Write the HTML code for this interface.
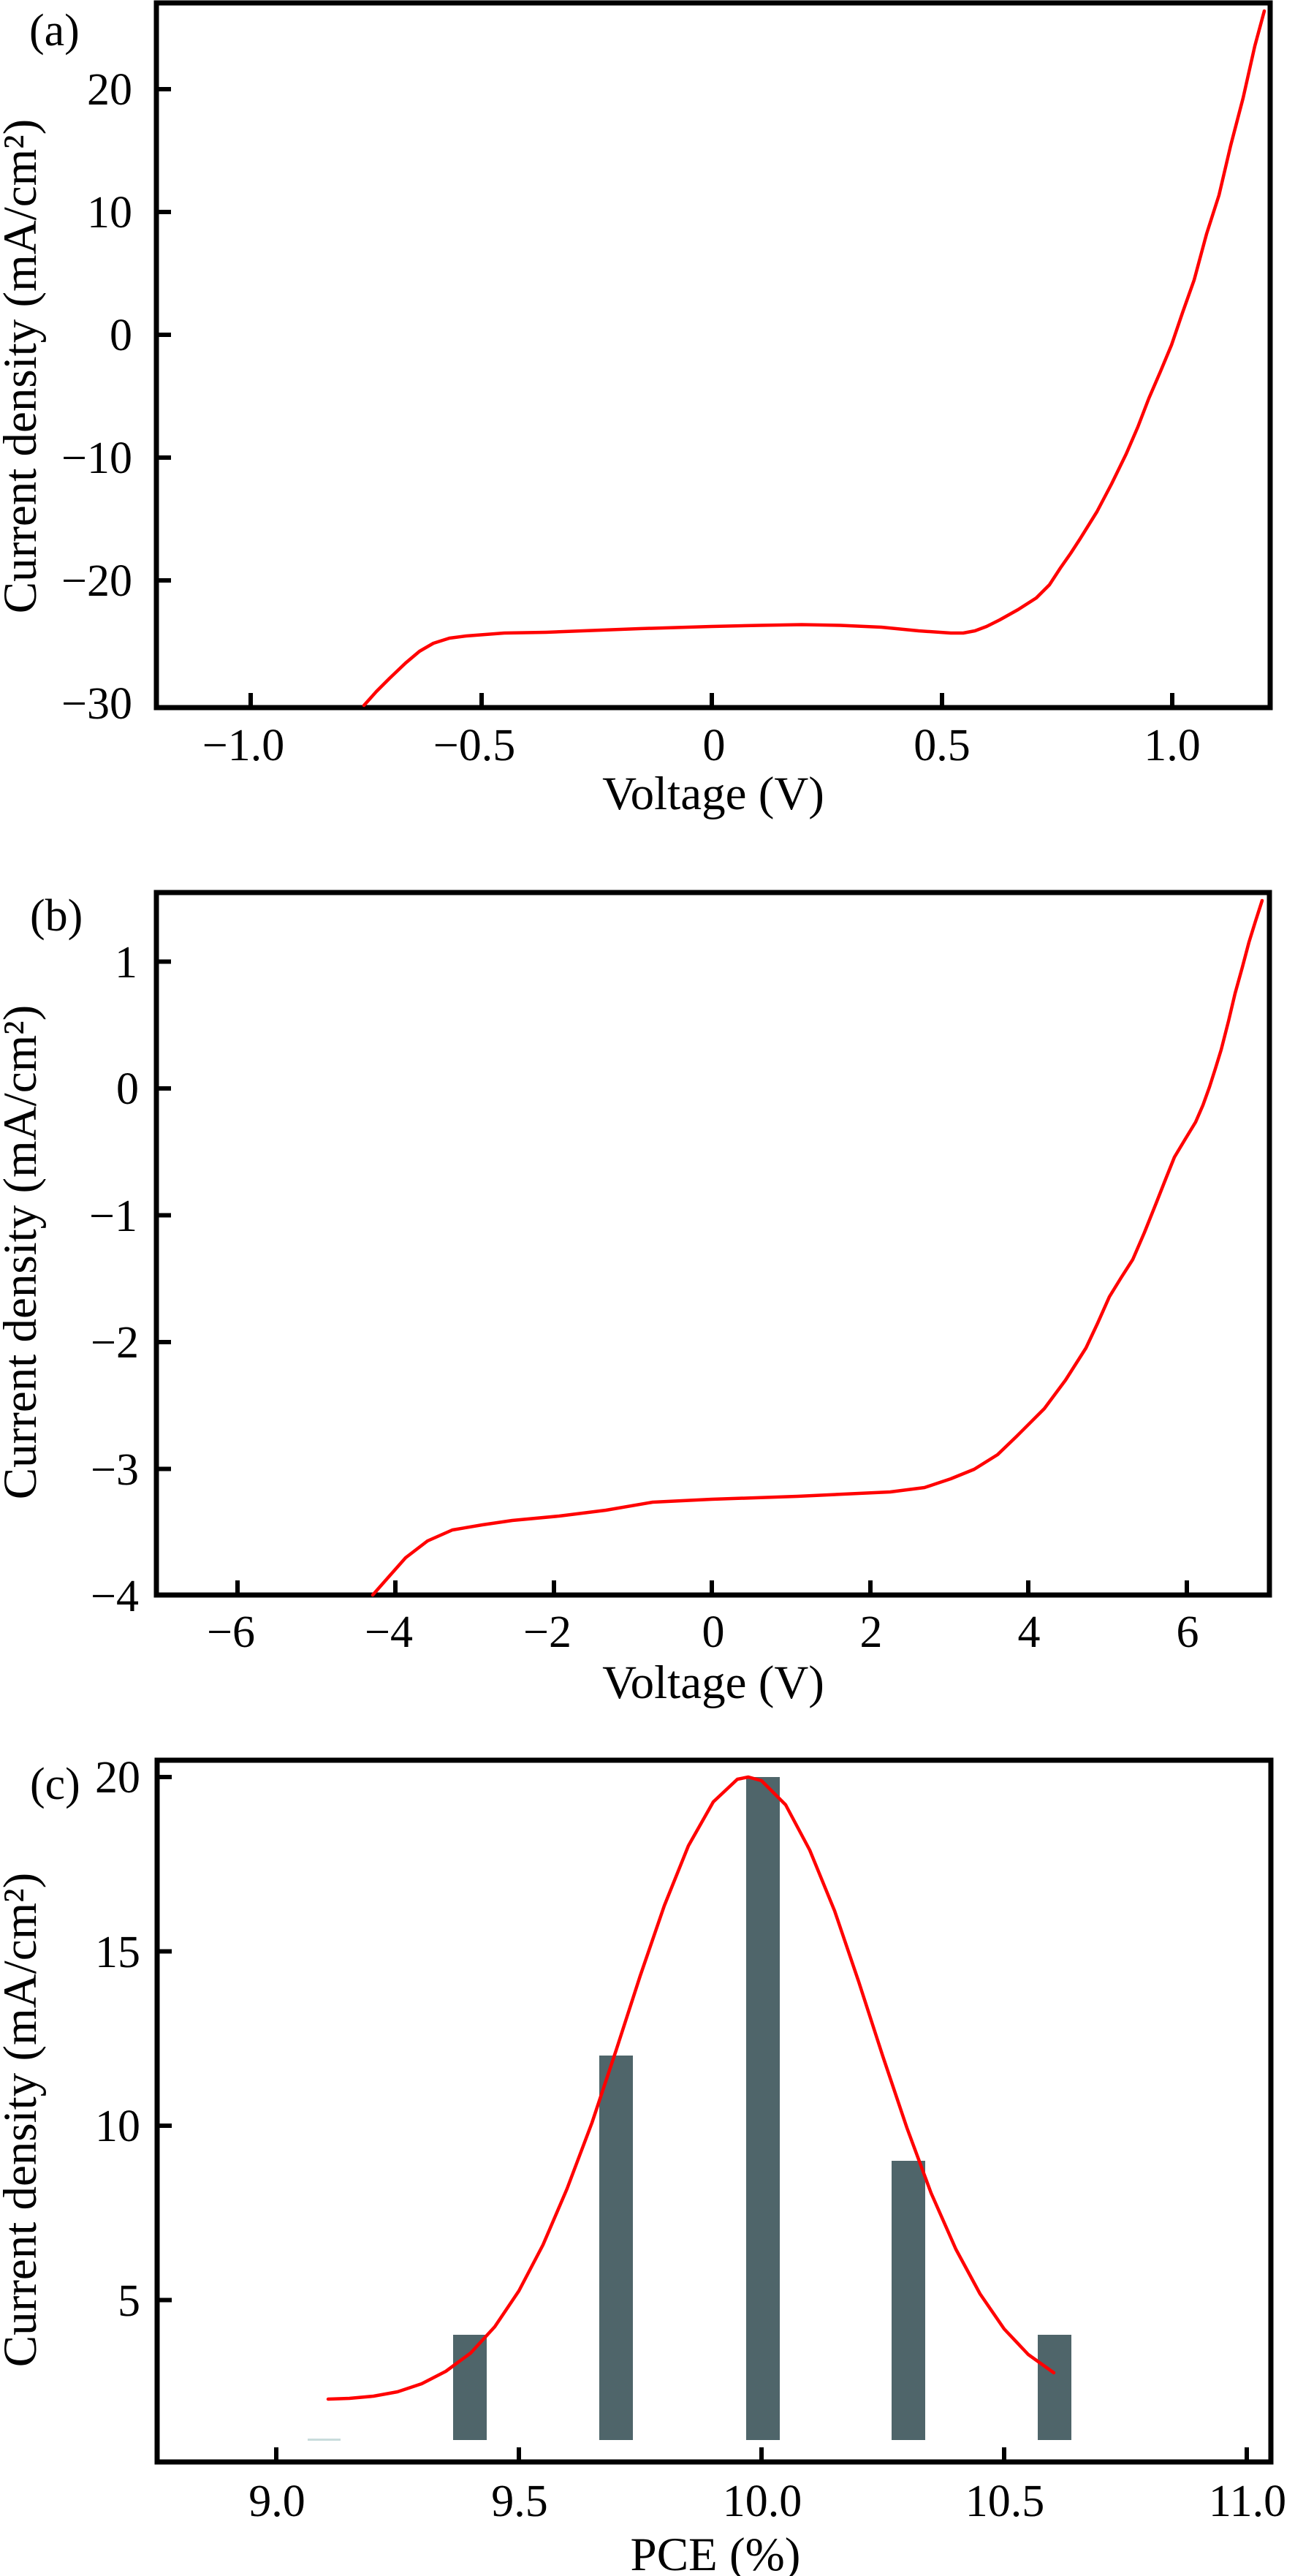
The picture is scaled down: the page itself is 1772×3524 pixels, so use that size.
<!DOCTYPE html>
<html>
<head>
<meta charset="utf-8">
<style>
html,body{margin:0;padding:0;background:#fff;}
svg{display:block;}
text{font-family:"Liberation Serif","Times New Roman",serif;fill:#000;}
.tk{font-size:62px;}
.al{font-size:65px;}
</style>
</head>
<body>
<svg width="1772" height="3524" viewBox="0 0 1772 3524" xmlns="http://www.w3.org/2000/svg">
<rect x="0" y="0" width="1772" height="3524" fill="#fff"/>

<!-- ================= PANEL (a) ================= -->
<text class="tk" x="40" y="62">(a)</text>
<rect x="214" y="4" width="1524" height="964" fill="none" stroke="#000" stroke-width="7"/>
<g stroke="#000" stroke-width="6">
  <path d="M214 122h20M214 290h20M214 458h20M214 626h20M214 794h20"/>
  <path d="M343 968v-20M659 968v-20M974 968v-20M1289 968v-20M1604 968v-20"/>
</g>
<g class="tk" text-anchor="end">
  <text x="181" y="143">20</text>
  <text x="181" y="311">10</text>
  <text x="181" y="479">0</text>
  <text x="181" y="647">−10</text>
  <text x="181" y="815">−20</text>
  <text x="181" y="983">−30</text>
</g>
<g class="tk" text-anchor="middle">
  <text x="333" y="1040">−1.0</text>
  <text x="649" y="1040">−0.5</text>
  <text x="977" y="1040">0</text>
  <text x="1289" y="1040">0.5</text>
  <text x="1604" y="1040">1.0</text>
</g>
<text class="al" text-anchor="middle" x="976" y="1107">Voltage (V)</text>
<text class="al" text-anchor="middle" transform="rotate(-90)" x="-501" y="49">Current density (mA/cm²)</text>
<polyline fill="none" stroke="#ff0000" stroke-width="4.5" stroke-linejoin="round" stroke-linecap="round"
points="498,965 515,946 533,928 555,907 574,891 593,880 615,873 638,870 690,866 747,865 875,860 974,857 1040,855.5 1097,854.5 1150,855.5 1206,858 1257,863 1301,866 1318,866 1334,863 1350,857 1368,848 1393,834 1418,818 1436,800 1451,777 1465,757 1478,737 1501,700 1521,662 1541,621 1557,584 1572,545 1588,508 1603,472 1618,428 1634,383 1651,320 1668,267 1684,199 1701,134 1717,63 1730,15"/>

<!-- ================= PANEL (b) ================= -->
<text class="tk" x="41" y="1273">(b)</text>
<rect x="214" y="1221" width="1523" height="961" fill="none" stroke="#000" stroke-width="7"/>
<g stroke="#000" stroke-width="6">
  <path d="M214 1315.5h20M214 1489h20M214 1662.5h20M214 1836h20M214 2009.5h20"/>
  <path d="M325 2182v-20M541 2182v-20M758 2182v-20M974 2182v-20M1191 2182v-20M1407 2182v-20M1624 2182v-20"/>
</g>
<g class="tk" text-anchor="end">
  <text x="188" y="1337">1</text>
  <text x="190" y="1510">0</text>
  <text x="188" y="1684">−1</text>
  <text x="190" y="1857">−2</text>
  <text x="190" y="2031">−3</text>
  <text x="190" y="2204">−4</text>
</g>
<g class="tk" text-anchor="middle">
  <text x="316" y="2253">−6</text>
  <text x="532" y="2253">−4</text>
  <text x="749" y="2253">−2</text>
  <text x="976" y="2253">0</text>
  <text x="1192" y="2253">2</text>
  <text x="1408" y="2253">4</text>
  <text x="1625" y="2253">6</text>
</g>
<text class="al" text-anchor="middle" x="976" y="2323">Voltage (V)</text>
<text class="al" text-anchor="middle" transform="rotate(-90)" x="-1713" y="49">Current density (mA/cm²)</text>
<polyline fill="none" stroke="#ff0000" stroke-width="4.5" stroke-linejoin="round" stroke-linecap="round"
points="510,2182 532,2157 555,2131 585,2108 619,2093 660,2086 701,2080 765,2074 829,2066 893,2055 974,2051 1091,2047 1218,2041 1265,2035 1301,2023 1333,2010 1365,1990 1391,1965 1429,1927 1458,1888 1486,1844 1502,1810 1518,1774 1534,1748 1550,1723 1566,1686 1582,1646 1595,1613 1607,1583 1622,1558 1636,1535 1646,1512 1655,1487 1663,1462 1671,1436 1681,1397 1690,1359 1700,1323 1709,1289 1718,1260 1727,1232"/>

<!-- ================= PANEL (c) ================= -->
<text class="tk" x="41" y="2461">(c)</text>
<!-- bars -->
<g fill="#4f656a">
  <rect x="620" y="3194" width="46" height="144"/>
  <rect x="820" y="2812" width="46" height="526"/>
  <rect x="1021" y="2431" width="46" height="907"/>
  <rect x="1220" y="2956" width="46" height="382"/>
  <rect x="1420" y="3194" width="46" height="144"/>
</g>
<rect x="421" y="3336" width="45" height="3" fill="#c9dcdc"/>
<rect x="215" y="2408" width="1524" height="960" fill="none" stroke="#000" stroke-width="7"/>
<g stroke="#000" stroke-width="6">
  <path d="M215 2431h20M215 2669.5h20M215 2908h20M215 3146.5h20"/>
  <path d="M378 3368v-20M710 3368v-20M1042 3368v-20M1374 3368v-20M1706 3368v-20"/>
</g>
<g class="tk" text-anchor="end">
  <text x="192" y="2452">20</text>
  <text x="192" y="2691">15</text>
  <text x="192" y="2929">10</text>
  <text x="192" y="3168">5</text>
</g>
<g class="tk" text-anchor="middle">
  <text x="379" y="3442">9.0</text>
  <text x="711" y="3442">9.5</text>
  <text x="1043" y="3442">10.0</text>
  <text x="1375" y="3442">10.5</text>
  <text x="1707" y="3442">11.0</text>
</g>
<text class="al" text-anchor="middle" x="979" y="3516">PCE (%)</text>
<text class="al" text-anchor="middle" transform="rotate(-90)" x="-2900" y="49">Current density (mA/cm²)</text>
<polyline fill="none" stroke="#ff0000" stroke-width="4.5" stroke-linejoin="round" stroke-linecap="round"
points="449,3282 478,3281 511,3278 544,3272 577,3261 610,3244 644,3219 677,3183 710,3134 743,3071 776,2994 810,2904 843,2805 876,2703 909,2607 942,2525 976,2465 1009,2434 1024,2431 1042,2436 1075,2469 1108,2531 1142,2614 1175,2711 1208,2813 1241,2911 1274,3000 1308,3077 1341,3138 1374,3186 1407,3221 1442,3246"/>
</svg>
</body>
</html>
